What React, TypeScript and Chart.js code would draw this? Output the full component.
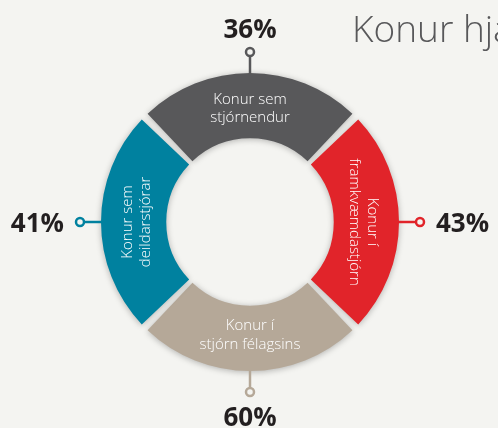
import { useEffect, useRef } from 'react';
import { Chart, registerables } from 'chart.js';

Chart.register(...registerables);

// Segments, clockwise from the top
const categories: string[][] = [
  ['Konur sem', 'stjórnendur'],
  ['Konur í', 'framkvæmdastjórn'],
  ['Konur í', 'stjórn félagsins'],
  ['Konur sem', 'deildarstjórar'],
];
const segmentSizes = [1, 1, 1, 1];
const percentages = [36, 43, 60, 41];
const segmentColors = ['#58585a', '#e1242a', '#b5a898', '#00819f'];
const titleText = 'Konur hjá';

const BG = '#f4f4f1';

const ringPlugin = {
  id: 'ringLabels',
  beforeDatasetsDraw(chart: any) {
    const ctx = chart.ctx;
    ctx.save();
    ctx.shadowColor = 'rgba(0,0,0,0.28)';
    ctx.shadowBlur = 6;
    ctx.shadowOffsetX = 0;
    ctx.shadowOffsetY = 1;
  },
  afterDatasetsDraw(chart: any) {
    const ctx = chart.ctx;
    ctx.restore();
    const meta = chart.getDatasetMeta(0);
    meta.data.forEach((el: any, i: number) => {
      const { x, y, startAngle, endAngle, innerRadius, outerRadius } = el.getProps(
        ['x', 'y', 'startAngle', 'endAngle', 'innerRadius', 'outerRadius'],
        true
      );
      const mid = (startAngle + endAngle) / 2;
      const c = Math.cos(mid);
      const s = Math.sin(mid);
      // segment label
      const r = innerRadius + (outerRadius - innerRadius) * 0.5 + 1;
      const px = x + c * r;
      const py = y + s * r;
      ctx.save();
      ctx.translate(px, py);
      if (c > 0.7) ctx.rotate(Math.PI / 2);
      else if (c < -0.7) ctx.rotate(-Math.PI / 2);
      ctx.fillStyle = '#ffffff';
      ctx.font = '300 15px "Open Sans"';
      ctx.textAlign = 'center';
      ctx.textBaseline = 'middle';
      const lines = categories[i];
      const lh = 18.5;
      lines.forEach((ln, k) => {
        ctx.fillText(ln, 0, (k - (lines.length - 1) / 2) * lh);
      });
      ctx.restore();

      // connector
      const outerEdge = outerRadius + 4;
      const cr = outerEdge + 21;
      ctx.save();
      ctx.strokeStyle = segmentColors[i];
      ctx.lineWidth = 2.5;
      ctx.beginPath();
      ctx.moveTo(x + c * (outerEdge - 2), y + s * (outerEdge - 2));
      ctx.lineTo(x + c * (cr - 4), y + s * (cr - 4));
      ctx.stroke();
      ctx.beginPath();
      ctx.arc(x + c * cr, y + s * cr, 4, 0, Math.PI * 2);
      ctx.fillStyle = BG;
      ctx.fill();
      ctx.stroke();
      ctx.restore();

      // percentage
      ctx.save();
      ctx.fillStyle = '#231f20';
      ctx.font = '700 26px "Open Sans"';
      ctx.textBaseline = 'middle';
      if (Math.abs(c) > 0.7) {
        ctx.textAlign = c > 0 ? 'left' : 'right';
        ctx.fillText(percentages[i] + '%', x + c * (cr + 16), y + 3);
      } else {
        ctx.textAlign = 'center';
        ctx.fillText(percentages[i] + '%', x, y + s * (cr + 24) + 3);
      }
      ctx.restore();
    });

    // title
    ctx.save();
    ctx.fillStyle = '#58585a';
    ctx.font = '300 37px "Open Sans"';
    ctx.textAlign = 'left';
    ctx.textBaseline = 'alphabetic';
    ctx.fillText(titleText, 352, 42);
    ctx.restore();
  },
};

export default function App() {
  const ref = useRef<HTMLCanvasElement>(null);
  useEffect(() => {
    if (!ref.current) return;
    const chart = new Chart(ref.current, {
      type: 'doughnut',
      data: {
        labels: categories.map((c) => c.join(' ')),
        datasets: [
          {
            data: segmentSizes,
            backgroundColor: segmentColors,
            borderWidth: 0,
            hoverOffset: 0,
            spacing: 8,
          } as any,
        ],
      },
      options: {
        responsive: false,
        animation: false,
        devicePixelRatio: 1,
        rotation: -45,
        cutout: '55%',
        layout: { padding: { top: 73, bottom: 57, left: 99, right: 97 } },
        plugins: {
          legend: { display: false },
          tooltip: { enabled: false },
          title: { display: false },
        },
        events: [],
      } as any,
      plugins: [ringPlugin],
    });
    return () => chart.destroy();
  }, []);
  return (
    <div
      style={{
        position: 'fixed',
        left: 0,
        top: 0,
        width: 498,
        height: 428,
        background: BG,
        overflow: 'hidden',
      }}
    >
      <canvas ref={ref} width={498} height={428} style={{ display: 'block' }} />
    </div>
  );
}
